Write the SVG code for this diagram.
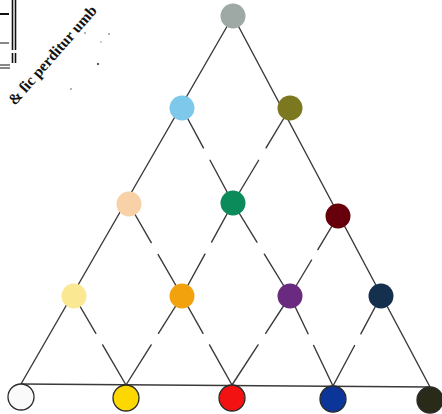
<svg xmlns="http://www.w3.org/2000/svg" width="442" height="414" viewBox="0 0 442 414">
<style>
.e{stroke:#3a3a3a;stroke-width:1.4;fill:none;stroke-linecap:round}
.d{stroke-dasharray:42 13 100}
.n{stroke:none}
.b{stroke:#2a2a2a;stroke-width:1.3}
.scan{stroke:#111;fill:none}
.t{font-family:"Liberation Serif",serif;font-weight:bold;font-size:15.5px;fill:#111}
</style>
<rect width="442" height="414" fill="#fff"/>
<g id="scan">
<path class="scan" stroke-width="1.6" d="M12.5 0V50M12.5 53V63M15.5 0V50M15.5 53V63"/>
<path class="scan" stroke-width="2" d="M0 14H9"/>
<path class="scan" stroke-width="1.2" d="M0 43H9M0 65H10M0 68H10"/>
<circle cx="85" cy="33" r="0.8" fill="#555"/>
<circle cx="109" cy="34" r="0.8" fill="#555"/>
<circle cx="101" cy="42" r="0.7" fill="#777"/>
<circle cx="98" cy="64" r="1.1" fill="#333"/>
<circle cx="71" cy="89" r="0.8" fill="#555"/>
<text class="t" transform="translate(15,106) rotate(-49)">&amp; ſic perditur umb</text>
</g>
<g id="connectors">
<path class="e" d="M233 16L21 384"/>
<path class="e" d="M233 16L430 387"/>
<path class="e" d="M21 384L430 387"/>
<path class="e d" pathLength="100" d="M182 108L233 203"/>
<path class="e d" pathLength="100" d="M233 203L290 296"/>
<path class="e d" pathLength="100" d="M290 296L333 386"/>
<path class="e d" pathLength="100" d="M290 108L233 203"/>
<path class="e d" pathLength="100" d="M233 203L182 296"/>
<path class="e d" pathLength="100" d="M182 296L126 385"/>
<path class="e d" pathLength="100" d="M129 204L182 296"/>
<path class="e d" pathLength="100" d="M182 296L232 385"/>
<path class="e d" pathLength="100" d="M338 216L290 296"/>
<path class="e d" pathLength="100" d="M290 296L232 385"/>
<path class="e d" pathLength="100" d="M74 296L126 385"/>
<path class="e d" pathLength="100" d="M381 296L333 386"/>
</g>
<g id="n-gray"><circle class="n" cx="233" cy="16" r="12.5" fill="#9ea8a4"/></g>
<g id="n-lightblue"><circle class="n" cx="182" cy="108" r="12.5" fill="#7ec8ec"/></g>
<g id="n-olive"><circle class="n" cx="290" cy="108" r="12.5" fill="#7b7820"/></g>
<g id="n-peach"><circle class="n" cx="129" cy="204" r="12.5" fill="#f8d1a8"/></g>
<g id="n-green"><circle class="n" cx="233" cy="203" r="12.5" fill="#0b8a5a"/></g>
<g id="n-darkred"><circle class="n" cx="338" cy="216" r="12.5" fill="#66000a"/></g>
<g id="n-lightyellow"><circle class="n" cx="74" cy="296" r="12.5" fill="#fbe892"/></g>
<g id="n-orange"><circle class="n" cx="182" cy="296" r="12.5" fill="#f2a20c"/></g>
<g id="n-purple"><circle class="n" cx="290" cy="296" r="12.5" fill="#6a2a80"/></g>
<g id="n-navy"><circle class="n" cx="381" cy="296" r="12.5" fill="#15304f"/></g>
<g id="n-white"><circle class="b" cx="21" cy="397" r="13" fill="#fafafa"/></g>
<g id="n-yellow"><circle class="b" cx="126" cy="398" r="13" fill="#fcd800"/></g>
<g id="n-red"><circle class="b" cx="232" cy="398" r="13" fill="#f21212"/></g>
<g id="n-blue"><circle class="b" cx="333" cy="399" r="13" fill="#0b3599"/></g>
<g id="n-black"><circle class="b" cx="430" cy="400" r="13" fill="#2a2a18"/></g>
</svg>
